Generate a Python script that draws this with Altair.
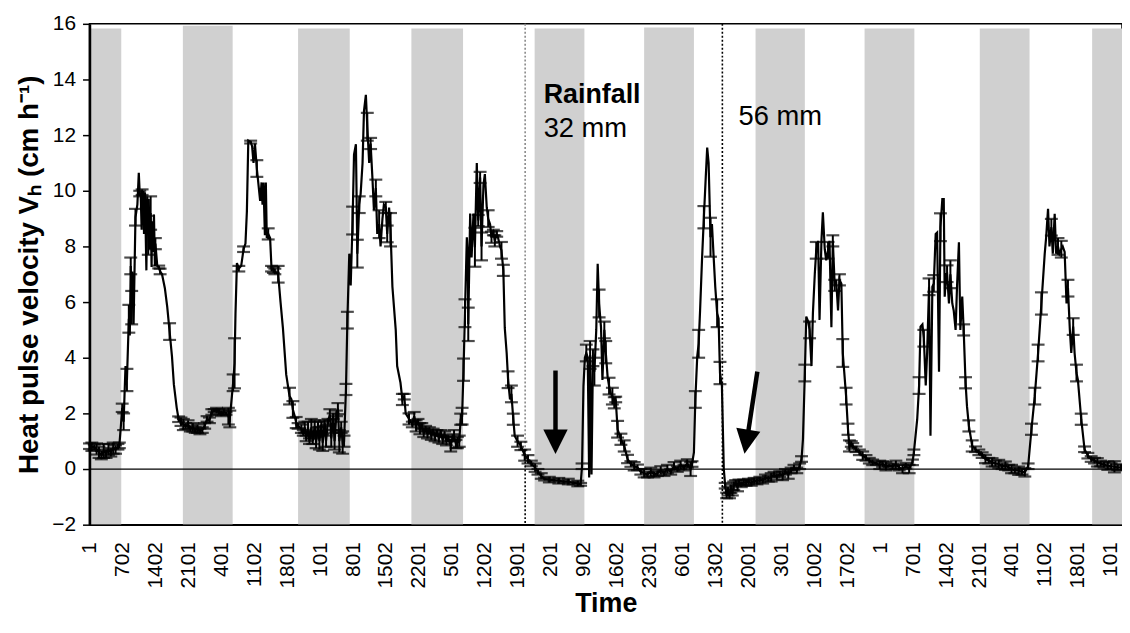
import json
import altair as alt
import pandas as pd

# ---------------- data (hour from start, velocity cm/h, error half-width) ----------------
NIGHT_0 = [(0.0,0.82,0.10),(0.5,0.80,0.15),(1.0,0.78,0.10),(1.5,0.72,0.20),(2.0,0.60,0.20),(2.5,0.50,0.15),
           (3.0,0.65,0.25),(3.5,0.55,0.15),(4.0,0.70,0.20),(4.5,0.60,0.15),(5.0,0.75,0.20),(5.5,0.70,0.15),(6.0,0.80,0.10)]
DAY_1 = [(6.3,0.85,0.10),(6.6,1.5,0.0),(6.9,2.2,0.15),(7.2,1.7,0.3),(7.6,3.7,0.0),(7.9,3.2,0.4),(8.3,5.4,0.5),
         (8.5,4.8,0.0),(8.7,7.3,0.3),(8.9,5.8,0.6),(9.0,7.1,0.0),(9.3,5.2,0.0),(9.7,9.05,0.3),(10.1,9.5,0.0),
         (10.4,10.65,0.0),(10.6,9.9,0.1),(10.8,9.9,0.0),(11.0,8.6,0.0),(11.1,9.95,0.1),(11.4,9.95,0.0),(11.5,8.45,0.0),
         (11.7,9.95,0.0),(12.0,7.14,0.0),(12.2,9.8,0.0),(12.4,8.4,0.7),(12.5,9.7,0.0),(12.7,7.9,0.0),(12.9,9.2,0.6),
         (13.1,7.26,0.0),(13.2,8.9,0.0),(13.4,7.8,0.0),(13.6,9.15,0.0),(13.8,7.3,0.0),(13.9,8.1,0.2),(14.3,7.3,0.0),
         (14.6,7.26,0.05),(14.9,7.1,0.1),(15.3,7.0,0.0),(15.9,6.5,0.0),(16.4,5.83,0.0),(16.9,4.94,0.3),(17.4,4.05,0.0),
         (17.8,3.04,0.0),(18.4,2.2,0.0),(18.8,1.79,0.1)]
NIGHT_1 = [(19.3,1.7,0.15),(19.8,1.6,0.2),(20.3,1.55,0.1),(20.8,1.6,0.15),(21.3,1.45,0.1),(21.8,1.5,0.15),(22.3,1.4,0.1),
           (22.8,1.45,0.15),(23.3,1.35,0.1),(23.8,1.4,0.1),(24.3,1.55,0.1),(24.8,1.8,0.1),(25.3,1.75,0.1),(25.8,2.05,0.1),
           (26.3,2.1,0.05),(26.8,2.1,0.1),(27.3,2.05,0.1),(27.8,2.0,0.1),(28.3,2.05,0.1),(28.8,2.0,0.05),(29.3,1.9,0.3),(29.6,1.8,0.3)]
DAY_2 = [(30.3,3.1,0.3),(30.6,3.8,0.9),(30.8,5.6,0.0),(31.1,7.4,0.0),(31.5,7.2,0.1),(32.0,7.3,0.0),(32.5,7.9,0.1),
         (32.9,8.1,0.0),(33.2,9.25,0.0),(33.5,11.8,0.0),(34.0,11.75,0.05),(34.3,11.6,0.0),(34.6,11.0,0.0),(34.9,11.7,0.0),
         (35.3,10.8,0.3),(35.6,10.3,0.0),(36.0,9.64,0.0),(36.3,10.3,0.0),(36.5,9.5,0.0),(36.7,10.3,0.0),(37.0,8.4,0.0),
         (37.2,10.3,0.0),(37.4,8.3,0.0),(37.7,8.45,0.2),(38.1,8.3,0.0),(38.4,7.2,0.1),(38.8,7.15,0.1),(39.1,7.1,0.1),
         (39.8,7.0,0.3),(40.3,6.0,0.0),(40.8,5.07,0.0),(41.5,3.39,0.0),(42.2,2.62,0.3),(42.6,2.5,0.0),(42.9,2.14,0.3),
         (43.3,1.9,0.0),(43.6,1.67,0.2)]
NIGHT_2 = [(44.0,1.55,0.1),(44.7,1.45,0.15),(45.1,1.3,0.1),(45.4,1.5,0.2),(45.7,1.1,0.1),(46.1,1.5,0.2),(46.4,1.0,0.1),
           (46.8,1.5,0.3),(47.1,1.0,0.1),(47.5,1.55,0.2),(47.8,0.95,0.2),(48.2,1.6,0.1),(48.5,1.0,0.3),(48.9,1.6,0.1),
           (49.2,0.95,0.3),(49.6,1.65,0.1),(49.9,1.0,0.2),(50.3,1.7,0.1),(50.7,1.95,0.2),(51.0,1.1,0.3),(51.4,1.9,0.1),
           (51.7,1.0,0.3),(52.1,2.0,0.1),(52.4,2.17,0.2),(52.7,1.0,0.4),(53.1,1.5,0.2),(53.4,0.95,0.4),(53.7,1.0,0.2)]
DAY_3 = [(54.1,2.86,0.2),(54.4,5.35,0.3),(54.8,7.74,0.0),(55.1,6.6,0.0),(55.5,8.93,0.5),(55.8,11.3,0.0),(56.2,11.67,0.0),
         (56.5,7.74,0.5),(56.9,9.5,0.3),(57.2,9.9,0.0),(57.6,11.0,0.0),(57.9,12.86,0.0),(58.3,13.45,0.0),(58.6,12.3,0.5),
         (59.0,11.0,0.0),(59.3,11.7,0.2),(59.7,10.4,0.0),(60.0,9.3,0.0),(60.4,10.1,0.3),(60.7,8.45,0.0),(61.1,8.8,0.5),
         (61.4,8.0,0.0),(61.8,9.0,0.0),(62.1,9.5,0.0),(62.5,9.4,0.2),(62.8,8.45,0.3),(63.2,9.4,0.0),(63.5,8.6,0.6),
         (63.9,6.55,0.0),(64.6,5.0,0.0),(64.9,3.7,0.0),(65.6,3.1,0.0),(66.0,2.5,0.2),(66.4,2.6,0.1),(66.7,2.0,0.0),(67.4,1.8,0.2)]
NIGHT_3 = [(68.1,1.6,0.1),(68.5,1.9,0.15),(68.9,1.55,0.2),(69.3,1.7,0.1),(69.7,1.45,0.2),(70.1,1.55,0.1),(70.5,1.3,0.15),
           (70.9,1.45,0.1),(71.3,1.25,0.15),(71.7,1.4,0.1),(72.1,1.2,0.15),(72.5,1.35,0.1),(72.9,1.15,0.15),(73.3,1.3,0.1),
           (73.7,1.1,0.15),(74.1,1.3,0.1),(74.5,1.05,0.15),(74.9,1.25,0.1),(75.3,1.0,0.15),(75.7,1.1,0.1),(76.2,0.83,0.2),
           (76.6,1.15,0.1),(76.9,1.2,0.2),(77.3,0.9,0.15),(77.6,0.95,0.2),(78.0,1.0,0.2),(78.3,1.79,0.2)]
DAY_4 = [(78.6,1.9,0.3),(78.9,3.57,0.4),(79.2,5.6,0.5),(79.6,8.33,0.0),(79.8,7.7,0.0),(79.9,5.2,0.6),(80.3,9.18,0.0),
         (80.6,7.6,0.0),(81.0,9.18,0.0),(81.3,7.97,0.7),(81.7,11.0,0.0),(82.0,8.93,0.2),(82.4,10.48,0.2),(82.7,8.0,0.5),
         (83.1,10.2,0.0),(83.4,10.6,0.0),(83.8,9.4,0.0),(84.1,9.0,0.3),(84.5,8.8,0.0),(84.8,8.33,0.2),(85.2,8.5,0.1),
         (85.5,8.2,0.2),(85.9,8.45,0.1),(86.2,8.3,0.0),(86.6,8.0,0.0),(86.9,7.86,0.3),(87.3,7.14,0.2),(87.6,5.07,0.0),
         (88.0,4.17,0.0),(88.3,3.21,0.3),(88.7,2.5,0.0),(89.0,2.7,0.3),(89.4,1.79,0.2),(89.7,1.19,0.0),(90.3,1.0,0.2),
         (91.0,0.83,0.15),(91.8,0.5,0.2),(92.5,0.35,0.15)]
NIGHT_4 = [(93.2,0.2,0.1),(94.0,0.05,0.15),(94.6,-0.1,0.1),(95.3,-0.25,0.1),(96.0,-0.36,0.05),(97.0,-0.38,0.1),
           (98.0,-0.4,0.05),(99.0,-0.42,0.1),(100.0,-0.45,0.05),(101.0,-0.45,0.1),(102.0,-0.5,0.05),(103.0,-0.52,0.1),
           (103.6,-0.55,0.05)]
DAY_5 = [(103.9,0.1,0.1),(104.2,2.98,0.0),(104.5,4.0,0.0),(104.8,4.17,0.3),(105.1,4.0,0.0),(105.4,-0.3,0.0),(105.6,4.1,0.5),
         (105.9,-0.2,0.0),(106.2,4.0,0.3),(106.5,3.5,0.5),(106.9,5.0,0.0),(107.2,7.38,0.0),(107.5,5.95,0.5),(107.9,5.1,0.0),
         (108.2,3.2,0.0),(108.6,5.0,0.3),(108.9,4.2,0.4),(109.3,3.3,0.0),(109.6,2.98,0.3),(110.0,2.7,0.0),(110.3,2.62,0.3),
         (110.7,2.38,0.2),(111.0,2.5,0.1),(111.4,1.43,0.3),(112.1,1.07,0.2),(112.8,0.83,0.2),(113.5,0.36,0.15),
         (114.2,0.18,0.1),(114.9,0.1,0.15),(115.6,0.06,0.1)]
NIGHT_5 = [(116.3,-0.1,0.1),(117.0,-0.15,0.15),(117.7,-0.2,0.1),(118.4,-0.1,0.15),(119.1,-0.2,0.1),(119.8,-0.15,0.1),
           (120.5,-0.05,0.15),(121.2,-0.15,0.1),(121.9,0.0,0.15),(122.6,-0.1,0.1),(123.3,0.1,0.15),(124.0,0.0,0.1),
           (124.7,0.15,0.15),(125.4,0.05,0.1),(126.1,0.2,0.15),(126.8,0.0,0.25),(127.1,0.18,0.1)]
DAY_6 = [(127.5,0.6,0.0),(127.8,2.5,0.3),(128.2,4.05,0.0),(128.5,4.5,0.5),(128.8,5.7,0.0),(129.2,7.5,0.0),(129.6,9.05,0.4),
         (130.0,10.5,0.0),(130.3,11.55,0.0),(130.6,11.0,0.0),(131.0,8.33,0.7),(131.3,8.8,0.0),(131.7,7.5,0.0),(132.0,6.55,0.0),
         (132.4,5.6,0.5),(132.7,5.4,0.0),(133.0,3.45,0.4),(133.4,3.0,0.0),(133.8,0.0,0.0)]
NIGHT_6 = [(134.1,-0.6,0.1),(134.4,-0.95,0.1),(134.7,-0.8,0.15),(135.0,-0.95,0.1),(135.3,-0.71,0.15),(135.6,-0.85,0.1),
           (135.9,-0.6,0.15),(136.3,-0.5,0.1),(136.7,-0.65,0.15),(137.0,-0.48,0.1),(137.5,-0.55,0.1),(138.0,-0.48,0.1),
           (138.5,-0.5,0.1),(139.0,-0.45,0.1),(139.6,-0.5,0.1),(140.2,-0.42,0.1),(140.8,-0.45,0.1),(141.4,-0.38,0.1),
           (142.0,-0.42,0.1),(142.6,-0.3,0.1),(143.2,-0.35,0.1),(143.8,-0.3,0.15),(144.4,-0.2,0.1),(145.0,-0.28,0.1),
           (145.6,-0.18,0.1),(146.2,-0.25,0.15),(146.8,-0.1,0.1),(147.4,-0.2,0.15),(148.0,-0.05,0.1),(148.6,0.05,0.1),
           (149.2,-0.05,0.1),(149.8,0.1,0.1)]
DAY_7 = [(150.2,0.36,0.1),(150.5,1.07,0.0),(150.9,3.45,0.3),(151.2,5.48,0.0),(151.6,5.3,0.0),(151.9,5.0,0.3),(152.3,3.7,0.0),
         (152.6,5.6,0.0),(153.0,7.02,0.0),(153.3,7.86,0.3),(153.7,8.2,0.0),(154.0,5.36,0.0),(154.4,8.2,0.0),(154.7,9.23,0.0),
         (155.1,7.9,0.0),(155.4,7.5,0.0),(155.8,7.86,0.3),(156.1,8.2,0.0),(156.5,5.1,0.0),(156.8,8.2,0.2),(157.2,6.6,0.2),
         (157.5,6.8,0.0),(157.9,5.7,0.0),(158.2,6.8,0.2),(158.6,6.67,0.0),(158.9,4.17,0.5),(159.6,2.62,0.3),(160.0,1.43,0.2),
         (160.3,0.83,0.2),(160.7,0.9,0.1),(161.0,0.83,0.1),(161.7,0.71,0.1),(162.4,0.6,0.1),(163.1,0.48,0.15),(163.8,0.4,0.1)]
NIGHT_7 = [(164.5,0.3,0.1),(165.2,0.24,0.1),(166.0,0.2,0.05),(166.7,0.15,0.15),(167.3,0.18,0.1),(168.0,0.1,0.15),
           (168.7,0.12,0.05),(169.4,0.1,0.1),(170.1,0.15,0.15),(170.8,0.05,0.1),(171.5,0.0,0.15),(172.2,0.12,0.1),
           (172.9,0.0,0.15),(173.6,0.24,0.1)]
DAY_8 = [(173.9,0.6,0.1),(174.6,1.79,0.0),(175.0,3.0,0.3),(175.3,5.12,0.0),(175.7,5.2,0.0),(176.0,4.7,0.3),(176.4,3.0,0.0),
         (176.7,4.2,0.0),(177.1,6.55,0.3),(177.4,1.2,0.0),(177.8,6.55,0.0),(178.1,6.67,0.3),(178.5,8.45,0.0),(178.8,8.5,0.0),
         (179.2,3.5,0.0),(179.5,8.69,0.5),(179.9,9.7,0.0),(180.2,9.7,0.0),(180.4,6.19,0.0),(180.7,7.0,0.0),(180.9,7.02,0.3),
         (181.3,5.95,0.0),(181.6,7.0,0.5),(182.0,5.95,0.0),(182.3,5.7,0.0),(182.7,5.0,0.0),(183.0,6.55,0.0),(183.4,8.15,0.0),
         (183.7,5.0,0.0),(184.1,6.2,0.0),(184.4,5.0,0.2),(184.8,3.1,0.2),(185.1,2.26,0.0),(185.5,1.55,0.2),(186.2,0.83,0.2),
         (186.9,0.71,0.1),(187.6,0.6,0.1)]
NIGHT_8 = [(188.3,0.5,0.1),(189.0,0.36,0.15),(189.7,0.3,0.1),(190.4,0.24,0.15),(191.1,0.2,0.1),(191.8,0.18,0.15),
           (192.5,0.1,0.1),(193.2,0.12,0.15),(193.9,0.05,0.1),(194.5,0.0,0.15),(195.2,-0.05,0.1),(196.0,-0.06,0.15),
           (196.7,-0.1,0.1),(197.3,-0.12,0.15)]
DAY_9 = [(198.0,0.1,0.1),(198.7,1.43,0.2),(199.4,2.62,0.3),(200.1,4.17,0.3),(200.8,5.95,0.4),(201.5,7.74,0.0),(201.8,8.33,0.0),
         (202.2,9.35,0.0),(202.5,8.0,0.0),(202.9,8.69,0.3),(203.2,7.74,0.0),(203.6,9.17,0.0),(203.9,7.74,0.0),(204.3,8.0,0.3),
         (204.6,7.74,0.0),(205.0,7.9,0.3),(205.3,8.0,0.0),(205.7,7.8,0.0),(206.1,5.95,0.0),(206.4,6.5,0.3),(206.8,5.0,0.0),
         (207.1,4.17,0.0),(207.5,5.12,0.3),(207.8,4.17,0.0),(208.2,3.45,0.3),(208.5,3.2,0.0),(209.2,1.79,0.2),(209.9,0.71,0.1),
         (210.6,0.48,0.1)]
NIGHT_9 = [(211.3,0.36,0.1),(212.0,0.3,0.1),(212.6,0.24,0.15),(213.3,0.2,0.1),(214.0,0.15,0.1),(214.8,0.12,0.15),
           (215.5,0.1,0.1),(216.2,0.08,0.2),(216.9,0.06,0.1),(217.6,0.06,0.1)]

SEGMENTS = [NIGHT_0, DAY_1, NIGHT_1, DAY_2, NIGHT_2, DAY_3, NIGHT_3, DAY_4, NIGHT_4, DAY_5,
            NIGHT_5, DAY_6, NIGHT_6, DAY_7, NIGHT_7, DAY_8, NIGHT_8, DAY_9, NIGHT_9]

# night (shaded) periods, hours
BAND_START = [0.3, 19.7, 44.0, 67.9, 93.9, 117.0, 140.5, 163.5, 187.8, 211.5]
BAND_END = [6.7, 30.2, 54.9, 78.8, 104.4, 127.5, 150.9, 174.0, 198.3, 217.8]
BAND_TOP = [15.83, 15.93, 15.83, 15.83, 15.83, 15.87, 15.83, 15.83, 15.83, 15.83]

# x tick labels (time of day, hhmm), one every 21 readings (~7 h)
TICK_LABELS = ["1", "702", "1402", "2101", "401", "1102", "1801", "101", "801", "1502", "2201",
               "501", "1202", "1901", "201", "902", "1602", "2301", "601", "1302", "2001", "301",
               "1002", "1702", "1", "701", "1402", "2101", "401", "1102", "1801", "101"]
TICK_STEP = 6.95
TICK_HOURS = [round(TICK_STEP * i, 3) for i in range(len(TICK_LABELS))]

RAIN_HOURS = [91.9, 133.5]
ANNOT_TEXT = ["Rainfall", "32 mm", "56 mm"]

# ---------------- build tables ----------------
rows = [r for seg in SEGMENTS for r in seg]
series = pd.DataFrame(rows, columns=["hour", "vel", "err"])
series["lo"] = series["vel"] - series["err"]
series["hi"] = series["vel"] + series["err"]
ebars = series[series["err"] > 0].reset_index(drop=True)

bands = pd.DataFrame({"start": BAND_START, "end": BAND_END, "top": BAND_TOP,
                      "bottom": [-2.0] * len(BAND_START)})
zero = pd.DataFrame({"y": [0.0]})

FONT = "Liberation Sans"
X_DOMAIN = [0, 217.8]
Y_DOMAIN = [-2, 16]

xaxis = alt.Axis(values=TICK_HOURS, labelExpr=f"{json.dumps(TICK_LABELS)}[round(datum.value / {TICK_STEP})]",
                 labelAngle=-90, labelFontSize=21, labelFont=FONT, labelColor="black",
                 labelPadding=17, labelOverlap=False, labelFlush=False, ticks=False,
                 domainColor="black", domainWidth=1.5, grid=False, zindex=1,
                 title="Time", titleFont=FONT, titleFontSize=27, titleFontWeight="bold",
                 titleColor="black", titlePadding=3)
yaxis = alt.Axis(values=list(range(-2, 17, 2)), labelFontSize=21, labelFont=FONT, labelColor="black",
                 labelPadding=7, tickSize=7, tickWidth=1.5, tickColor="black",
                 domainColor="black", domainWidth=2.5, grid=False, zindex=1,
                 title="Heat pulse velocity Vₕ (cm h⁻¹)", titleFont=FONT, titleFontSize=28,
                 titleFontWeight="bold", titleColor="black", titlePadding=8)

xs = alt.Scale(domain=X_DOMAIN, nice=False, zero=False)
ys = alt.Scale(domain=Y_DOMAIN, nice=False, zero=False)


def X(f):
    return alt.X(f"{f}:Q", scale=xs, axis=xaxis)


def Y(f):
    return alt.Y(f"{f}:Q", scale=ys, axis=yaxis)


band_layer = alt.Chart(bands).mark_rect(color="#d0d0d0").encode(
    x=X("start"), x2="end", y=Y("bottom"), y2="top")

zero_layer = alt.Chart(zero).mark_rule(color="black", strokeWidth=1.2).encode(y=Y("y"))

rain = pd.DataFrame({"hour": [RAIN_HOURS[0], RAIN_HOURS[0], RAIN_HOURS[1]],
                     "y1": [16.0, 0.7, 16.0], "y2": [0.7, -2.0, -2.0],
                     "part": ["upper", "lower", "full"]})
rain_layer = alt.Chart(rain).mark_rule(strokeDash=[2, 2], strokeWidth=1.6).encode(
    x=X("hour"), y=Y("y1"), y2="y2",
    color=alt.Color("part:N", scale=alt.Scale(domain=["upper", "lower", "full"],
                                              range=["#8a8a8a", "black", "black"]), legend=None))

err_layer = alt.Chart(ebars).mark_rule(color="black", strokeWidth=2).encode(
    x=X("hour"), y=Y("lo"), y2="hi")
cap_layer = alt.Chart(ebars).transform_fold(["lo", "hi"], as_=["end", "cap"]).mark_tick(
    orient="horizontal", size=13, thickness=2.2, color="black").encode(x=X("hour"), y=Y("cap"))

line_layer = alt.Chart(series).mark_line(color="black", strokeWidth=2.2).encode(
    x=X("hour"), y=Y("vel"), order="hour:Q")

# arrows (shaft + head), positions in data units
shafts = pd.DataFrame({"x1": [98.3, 140.88], "x2": [98.3, 138.97], "y1": [3.54, 3.50], "y2": [1.30, 1.35]})
heads = pd.DataFrame({"hour": [98.3, 138.57], "vel": [0.98, 0.98], "ang": [0, 9]})
shaft_layer = alt.Chart(shafts).mark_rule(color="black", strokeWidth=4.5).encode(
    x=X("x1"), x2="x2", y=Y("y1"), y2="y2")
head_layer = alt.Chart(heads).mark_point(shape="M-1,-1L1,-1L0,1Z", filled=True, size=600,
                                         color="black", opacity=1).encode(
    x=X("hour"), y=Y("vel"), angle=alt.Angle("ang:Q", scale=None))

txt = pd.DataFrame({"hour": [95.8, 95.8, 136.9], "vel": [13.15, 11.93, 12.36], "label": ANNOT_TEXT,
                    "w": ["bold", "normal", "normal"]})
txt_bold = alt.Chart(txt[txt.w == "bold"]).mark_text(align="left", baseline="alphabetic", font=FONT,
                                                     fontSize=27, fontWeight="bold", color="black").encode(
    x=X("hour"), y=Y("vel"), text="label:N")
txt_norm = alt.Chart(txt[txt.w == "normal"]).mark_text(align="left", baseline="alphabetic", font=FONT,
                                                       fontSize=27.5, color="black").encode(
    x=X("hour"), y=Y("vel"), text="label:N")

chart = alt.layer(band_layer, zero_layer, rain_layer, err_layer, cap_layer, line_layer,
                  shaft_layer, head_layer, txt_bold, txt_norm).properties(
    width=1039, height=504, autosize="none",
    padding={"left": 82, "top": 14, "right": 0, "bottom": 95},
    background="white",
).configure_view(stroke="black", strokeWidth=1.5)

chart.save("out.html", embed_options={"renderer": "svg", "actions": False})
